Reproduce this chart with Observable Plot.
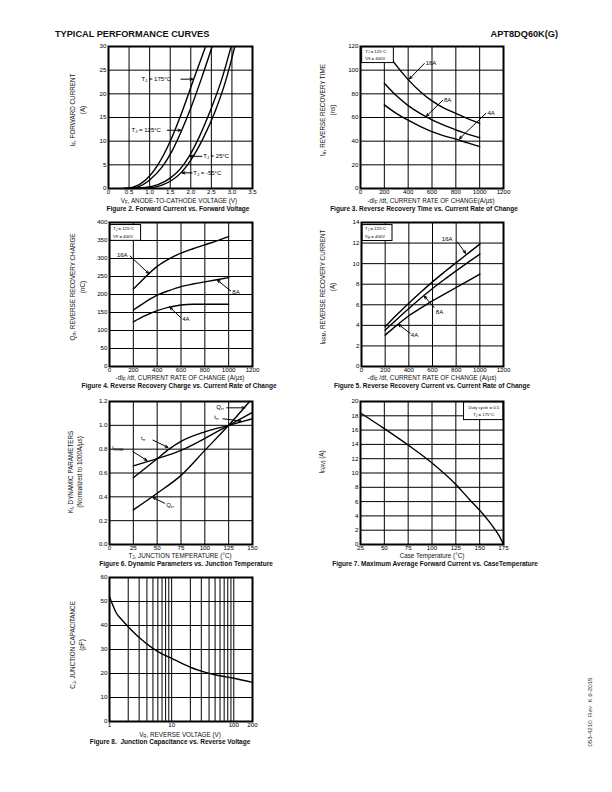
<!DOCTYPE html>
<html><head><meta charset="utf-8">
<script src="https://cdn.jsdelivr.net/npm/d3@7"></script>
<script src="https://cdn.jsdelivr.net/npm/@observablehq/plot@0.6"></script>
<style>
body{margin:0;background:#fff;}
#page{position:relative;width:612px;height:792px;overflow:hidden;font-family:"Liberation Sans",Arial,Helvetica,sans-serif;color:#111;background:#fff;}
.abs{position:absolute;white-space:nowrap;line-height:1;}
.abs sub{font-size:0.7em;vertical-align:-0.25em;line-height:0;}
</style></head><body><div id="page"></div>
<script>
// ---------- Figure 2: forward current vs forward voltage [V, A]
const fig2_175C = [[0.35,0],[0.6,0.3],[0.9,1.8],[1.2,5],[1.5,10],[1.8,16.5],[2.07,23.1],[2.36,30]];
const fig2_125C = [[0.4,0],[0.7,0.3],[1.0,1.8],[1.3,4.5],[1.55,8],[1.78,12.3],[2.0,17],[2.25,23],[2.52,30]];
const fig2_25C  = [[0.45,0],[0.9,0.2],[1.2,0.8],[1.5,2.2],[1.75,4.2],[1.96,6.8],[2.2,10.8],[2.5,17],[2.75,23],[2.98,30]];
const fig2_m55C = [[0.55,0],[1.0,0.15],[1.3,0.7],[1.55,1.8],[1.76,3.3],[2.0,6.0],[2.3,10.6],[2.6,16.5],[2.85,22.8],[3.07,30]];
const fig2Notes = [
  {t:"T_{J} = 175°C", x:0.80, y:23.1, x1:1.76, y1:23.1, x2:2.05, y2:23.1},
  {t:"T_{J} = 125°C", x:0.56, y:12.3, x1:1.43, y1:12.3, x2:1.76, y2:12.3},
  {t:"T_{J} = 25°C",  x:2.30, y:6.8,  x1:2.27, y1:6.8,  x2:1.98, y2:6.8},
  {t:"T_{J} = -55°C", x:2.06, y:3.3,  x1:2.03, y1:3.3,  x2:1.79, y2:3.3}
];
// ---------- Figure 3/4/5: current rate of change (A/us)
const didt = [200,300,400,500,600,700,800,900,1000];
const trr16A = [118,104,92,82,74,68,63.5,59,55];
const trr8A  = [89,78.5,70,63.5,58,53.5,49.6,46,43];
const trr4A  = [70.7,63.5,57.7,52.5,48,44.5,41.7,38.5,35.5];
const fig3Notes = [
  {t:"16A", x:547, y:105.6, x1:535, y1:105.6, x2:410, y2:92.5},
  {t:"8A",  x:700, y:75,    x1:690, y1:74.5,  x2:552, y2:61},
  {t:"4A",  x:1065,y:63.7,  x1:1052,y1:63.5,  x2:830, y2:42}
];
const qrr16A = [215,248,278,299,315,327,338,349,361];
const qrr8A  = [157,179,198,211,222,229,235,241,247];
const qrr4A  = [124,141,155,165,171,173,173,173,173];
const fig4Notes = [
  {t:"16A", x:62,  y:309, x1:172, y1:307, x2:330, y2:258},
  {t:"8A",  x:1031,y:207, x1:1017,y1:210, x2:905, y2:240},
  {t:"4A",  x:610, y:133, x1:596, y1:136, x2:506, y2:165}
];
const irrm16A = [3.86,5.05,6.16,7.22,8.23,9.18,10.1,11.0,11.9];
const irrm8A  = [3.53,4.6,5.64,6.63,7.58,8.46,9.3,10.12,10.92];
const irrm4A  = [3.05,4.02,4.93,5.67,6.38,7.03,7.68,8.33,8.98];
const fig5Notes = [
  {t:"16A", x:679, y:12.38, x1:811, y1:12.1, x2:880, y2:11.0},
  {t:"8A",  x:628, y:5.25,  x1:614, y1:5.74, x2:530, y2:6.85},
  {t:"4A",  x:417, y:3.05,  x1:411, y1:3.24, x2:310, y2:4.1}
];
// ---------- Figure 6: normalized dynamic parameters vs TJ
const fig6Qrr  = [[25,0.29],[50,0.43],[75,0.58],[100,0.79],[125,1.0],[147,1.2]];
const fig6trr  = [[25,0.56],[50,0.72],[62.5,0.80],[75,0.865],[100,0.945],[125,1.0],[150,1.055]];
const fig6Irrm = [[25,0.66],[50,0.72],[75,0.79],[100,0.89],[125,1.0],[150,1.108]];
const fig6Notes = [
  {t:"Q_{rr}",  x:112, y:1.155, x1:123, y1:1.147, x2:142, y2:1.147},
  {t:"t_{rr}",  x:110, y:1.07,  x1:119, y1:1.055, x2:138, y2:1.036},
  {t:"t_{rr}",  x:33,  y:0.89,  x1:45.6,y1:0.876, x2:61.3,y2:0.815},
  {t:"I_{RRM}", x:2.5, y:0.81,  x1:24.5,y1:0.78,  x2:39.3,y2:0.705},
  {t:"Q_{rr}",  x:59.6,y:0.33,  x1:57.8,y1:0.346, x2:45.6,y2:0.394}
];
// ---------- Figure 7: max average forward current vs case temperature
const fig7Tc = [25,50,75,100,125,140,150,160,165,170,175];
const fig7If = [18.4,16.2,13.9,11.4,8.4,6.2,4.8,3.2,2.3,1.3,0];
// ---------- Figure 8: junction capacitance vs reverse voltage
const fig8Vr = [1,1.15,1.3,1.5,2,3,5,7,10,20,30,50,100,200];
const fig8Cj = [52,48,45,43,39.5,35,30.5,28.2,26.3,22.6,21,19.5,18,16.3];
const fig8Ticks = [1,10,100,200];

// ---------- helpers
const page = document.getElementById("page");
const FONT = '"Liberation Sans", Arial, Helvetica, sans-serif';
const TICK = 6.2;
function subify(root){
  root.querySelectorAll("text").forEach(el=>{
    const s = el.textContent;
    if(!s.includes("_{")) return;
    const parts = s.split(/_\{([^}]*)\}/);
    el.textContent = "";
    parts.forEach((p,i)=>{
      if(!p) return;
      const ts = document.createElementNS("http://www.w3.org/2000/svg","tspan");
      ts.textContent = p;
      if(i%2){ ts.setAttribute("font-size","0.72em"); ts.setAttribute("dy","0.25em"); }
      else if(i>1){ ts.setAttribute("dy","-0.18em"); }
      el.appendChild(ts);
    });
  });
}
function T(html, x, y, o={}){
  const d = document.createElement("div");
  d.className = "abs"; d.innerHTML = html;
  d.style.left = x+"px"; d.style.top = y+"px";
  d.style.fontSize = (o.size||6.3)+"px";
  if(o.bold) d.style.fontWeight = "bold";
  d.style.color = o.color||"#111";
  const ax = o.anchor==="start"?"0":o.anchor==="end"?"-100%":"-50%";
  d.style.transform = `translate(${ax},-50%)`+(o.rot?` rotate(${o.rot}deg)`:"");
  page.appendChild(d);
}
const ML=30, MR=8, MT=6, MB=12;
function chart(f){
  const xAxis = f.xlabels
    ? Plot.text(f.xticks,{x:d=>d, text:d=>String(d), frameAnchor:"bottom", lineAnchor:"top", dy:1.5, fontSize:TICK, fill:"#000"})
    : Plot.axisX(f.xticks, {tickSize:0, tickPadding:1.5, tickFormat:f.xfmt||(d=>String(d)), label:null, fontSize:TICK});
  const svg = Plot.plot({
    width: f.w+ML+MR, height: f.h+MT+MB,
    marginLeft: ML, marginRight: MR, marginTop: MT, marginBottom: MB,
    x: {type: f.xtype||"linear", domain: f.xd, axis: null},
    y: {domain: f.yd, axis: null},
    style: {fontFamily: FONT, fontSize: TICK+"px", color: "#000", background: "transparent", overflow: "visible"},
    marks: [
      Plot.gridX(f.xgrid, {stroke:"#000", strokeOpacity:1, strokeWidth:1}),
      Plot.gridY(f.ygrid, {stroke:"#000", strokeOpacity:1, strokeWidth:1}),
      ...f.marks,
      Plot.frame({stroke:"#000", strokeWidth:2}),
      xAxis,
      Plot.axisY(f.yticks, {tickSize:0, tickPadding:2, tickFormat:f.yfmt||(d=>String(d)), label:null, fontSize:TICK})
    ]
  });
  svg.style.position = "absolute";
  svg.style.left = (f.fx-ML)+"px";
  svg.style.top = (f.fy-MT)+"px";
  page.appendChild(svg);
  subify(svg);
}
const LW = 1.4;
const lineP = (data)=>Plot.line(data,{x:d=>d[0], y:d=>d[1], curve:"monotone-x", stroke:"#000", strokeWidth:LW});
const lineXY = (xs,ys)=>Plot.line(xs,{x:d=>d, y:(d,i)=>ys[i], curve:"monotone-x", stroke:"#000", strokeWidth:LW});
const notes = (n)=>[
  Plot.arrow(n,{x1:"x1",y1:"y1",x2:"x2",y2:"y2",stroke:"#000",strokeWidth:1,headLength:4.5,headAngle:45}),
  Plot.text(n,{x:"x",y:"y",text:"t",textAnchor:"start",fontSize:6,fill:"#000"})
];
const inset = (x1,x2,y1,y2,lines,ys,anchor,tx)=>[
  Plot.rect([0],{x1:()=>x1,x2:()=>x2,y1:()=>y1,y2:()=>y2,fill:"#fff",stroke:"#000",strokeWidth:1}),
  Plot.text(lines,{x:()=>tx,y:(d,i)=>ys[i],text:d=>d,textAnchor:anchor,fontSize:4.3,fill:"#000"})
];
const range = (a,b,s)=>d3.range(a,b+s/2,s);

// ---------- header
T("TYPICAL PERFORMANCE CURVES",55,35,{anchor:"start",size:9.2,bold:true});
T("APT8DQ60K(G)",558,35,{anchor:"end",size:9.2,bold:true});

// ---------- Figure 2
chart({fx:108, fy:46, w:144, h:142, xd:[0,3.5], yd:[0,30],
  xgrid:range(0.5,3,0.5), ygrid:range(5,25,5), xticks:range(0,3.5,0.5), yticks:range(0,30,5),
  xfmt:d=>d===0?"0":d.toFixed(1),
  marks:[lineP(fig2_175C), lineP(fig2_125C), lineP(fig2_25C), lineP(fig2_m55C), ...notes(fig2Notes)]});
T("I<sub>F</sub>, FORWARD CURRENT",73,110,{rot:-90});
T("(A)",83,110,{rot:-90});
T("V<sub>F</sub>, ANODE-TO-CATHODE VOLTAGE (V)",179,201);
T("Figure 2. Forward Current vs. Forward Voltage",178,209.3,{bold:true,size:6.5});

// ---------- Figure 3
chart({fx:360, fy:46, w:143, h:142, xd:[0,1200], yd:[0,120],
  xgrid:range(200,1000,200), ygrid:range(20,100,20), xticks:range(0,1200,200), yticks:range(0,120,20),
  marks:[lineXY(didt,trr16A), lineXY(didt,trr8A), lineXY(didt,trr4A),
    ...inset(14,280,106,119.5,["T_{J} = 125°C","V_{R} = 400V"],[116,110],"start",40), ...notes(fig3Notes)]});
T("t<sub>rr</sub>, REVERSE RECOVERY TIME",323,110,{rot:-90});
T("(ns)",333,110,{rot:-90});
T("-dI<sub>F</sub> /dt, CURRENT RATE OF CHANGE(A/µs)",431,201);
T("Figure 3. Reverse Recovery Time vs. Current Rate of Change",424,209.3,{bold:true,size:6.5});

// ---------- Figure 4
chart({fx:109, fy:222, w:143, h:144, xd:[0,1200], yd:[0,400],
  xgrid:range(200,1000,200), ygrid:range(50,350,50), xticks:range(0,1200,200), yticks:range(0,400,50),
  marks:[lineXY(didt,qrr16A), lineXY(didt,qrr8A), lineXY(didt,qrr4A),
    ...inset(6,265,349,393,["T_{J} = 125°C","V_{R} = 400V"],[383,362],"start",30), ...notes(fig4Notes)]});
T("Q<sub>rr</sub>, REVERSE RECOVERY CHARGE",73,287,{rot:-90});
T("(nC)",83,287,{rot:-90});
T("-dI<sub>F</sub> /dt, CURRENT RATE OF CHANGE (A/µs)",180,378.2);
T("Figure 4. Reverse Recovery Charge vs. Current Rate of Change",179,385.8,{bold:true,size:6.5});

// ---------- Figure 5
chart({fx:361, fy:222, w:142, h:144, xd:[0,1200], yd:[0,14],
  xgrid:range(200,1000,200), ygrid:range(2,12,2), xticks:range(0,1200,200), yticks:range(0,14,2),
  marks:[lineXY(didt,irrm16A), lineXY(didt,irrm8A), lineXY(didt,irrm4A),
    ...inset(8,262,12.2,13.75,["T_{J} = 125°C","V_{R} = 400V"],[13.4,12.6],"start",30), ...notes(fig5Notes)]});
T("I<sub>RRM</sub>, REVERSE RECOVERY CURRENT",323,287,{rot:-90});
T("(A)",333,287,{rot:-90});
T("-dI<sub>F</sub> /dt, CURRENT RATE OF CHANGE (A/µs)",432,378.2);
T("Figure 5. Reverse Recovery Current vs. Current Rate of Change",432,385.8,{bold:true,size:6.5});

// ---------- Figure 6
chart({fx:109, fy:401, w:143, h:143, xd:[0,150], yd:[0,1.2],
  xgrid:range(25,125,25), ygrid:range(0.2,1.0,0.2), xticks:range(0,150,25), yticks:range(0,1.2,0.2),
  yfmt:d=>d.toFixed(1),
  marks:[lineP(fig6Qrr), lineP(fig6trr), lineP(fig6Irrm), ...notes(fig6Notes)]});
T("K<sub>f</sub>, DYNAMIC PARAMETERS",71,472,{rot:-90});
T("(Normalized to 1000A/µs)",80,472,{rot:-90});
T("T<sub>J</sub>, JUNCTION TEMPERATURE (°C)",180,556.3);
T("Figure 6. Dynamic Parameters vs. Junction Temperature",186,564,{bold:true,size:6.5});

// ---------- Figure 7
chart({fx:360, fy:401, w:143, h:143, xd:[25,175], yd:[0,20],
  xgrid:range(50,150,25), ygrid:range(2,18,2), xticks:range(25,175,25), yticks:range(0,20,2),
  marks:[lineXY(fig7Tc,fig7If),
    ...inset(133.6,175,17.4,19.9,["Duty cycle = 0.5","T_{J} = 175°C"],[19.15,18.1],"middle",154.3)]});
T("I<sub>F(AV)</sub> (A)",322,462,{rot:-90});
T("Case Temperature (°C)",432,556.3);
T("Figure 7. Maximum Average Forward Current vs. CaseTemperature",435,564,{bold:true,size:6.5});

// ---------- Figure 8
chart({fx:109, fy:577, w:143, h:144, xtype:"log", xd:[1,200], yd:[0,60],
  xgrid:[2,3,4,5,6,7,8,9,10,20,30,40,50,60,70,80,90,100], ygrid:range(10,50,10), xticks:fig8Ticks, xlabels:true, yticks:range(0,60,10),
  marks:[lineXY(fig8Vr,fig8Cj)]});
T("C<sub>J</sub>, JUNCTION CAPACITANCE",73,645,{rot:-90});
T("(pF)",82,645,{rot:-90});
T("V<sub>R</sub>, REVERSE VOLTAGE (V)",180,734.5);
T("Figure 8.&nbsp; Junction Capacitance vs. Reverse Voltage",170,742.3,{bold:true,size:6.5});

// ---------- side note
T("053-4210&nbsp;&nbsp;Rev&nbsp;&nbsp;K&nbsp;6-2015",590,712,{rot:-90,color:"#333",size:6.2});
</script></body></html>
